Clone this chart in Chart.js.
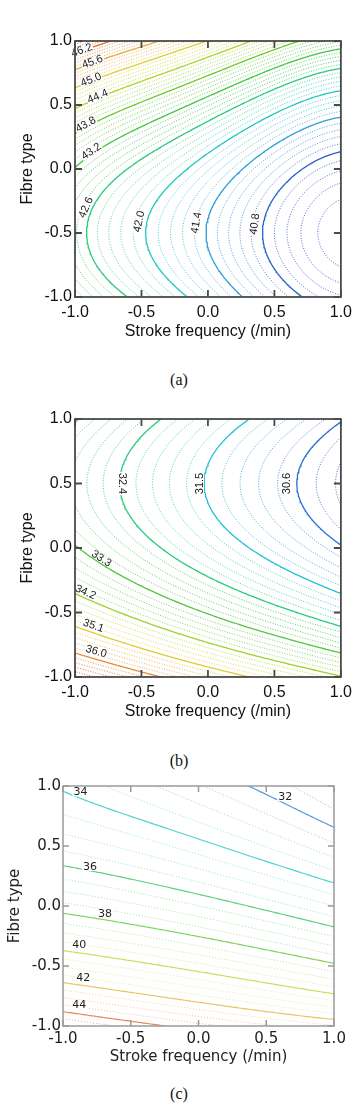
<!DOCTYPE html>
<html><head><meta charset="utf-8">
<script src="https://cdn.jsdelivr.net/npm/chart.js@4.4.1/dist/chart.umd.min.js"></script>
<style>
html,body{margin:0;padding:0;background:#fff;}
body{width:358px;height:1106px;position:relative;overflow:hidden;}
canvas{position:absolute;left:0;display:block;}
.cap{position:absolute;left:0;width:358px;text-align:center;font-family:"Liberation Serif","Times New Roman",serif;font-size:16px;color:#111;line-height:18px;}
</style></head><body>
<canvas id="ca" width="358" height="350" style="top:0px"></canvas>
<div class="cap" id="capA" style="top:371px"></div>
<canvas id="cb" width="358" height="330" style="top:400px"></canvas>
<div class="cap" id="capB" style="top:752px"></div>
<canvas id="cc" width="358" height="320" style="top:760px"></canvas>
<div class="cap" id="capC" style="top:1085px"></div>
<script>
// ---------------- data ----------------
const gridX = [-1, -0.5, 0, 0.5, 1];          // stroke frequency (coded)
const gridY = [-1, -0.5, 0, 0.5, 1];          // fibre type (coded)
const tickValues = [-1, -0.5, 0, 0.5, 1];
const tickLabels = ['-1.0', '-0.5', '0.0', '0.5', '1.0'];
const xTitle = 'Stroke frequency (/min)';
const yTitle = 'Fibre type';
const captions = ['(a)', '(b)', '(c)'];

// surface values, rows from y=-1 (bottom) to y=1 (top), columns x=-1..1
const surfaceA = [
  [43.18, 42.46, 41.78, 41.06, 40.58],
  [42.74, 42.04, 41.38, 40.68, 40.22],
  [43.18, 42.46, 41.78, 41.06, 40.58],
  [44.50, 43.72, 42.98, 42.20, 41.66],
  [46.70, 45.82, 44.98, 44.10, 43.46]
];
const surfaceB = [
  [36.94, 36.21, 35.51, 34.86, 34.24],
  [34.69, 33.96, 33.26, 32.61, 31.99],
  [33.34, 32.61, 31.91, 31.26, 30.64],
  [32.89, 32.16, 31.46, 30.81, 30.19],
  [33.34, 32.61, 31.91, 31.26, 30.64]
];
const surfaceC = [
  [45.04, 44.34, 43.70, 43.11, 42.57],
  [40.93, 40.32, 39.66, 38.94, 38.16],
  [37.65, 37.13, 36.51, 35.80, 35.00],
  [35.35, 34.85, 34.22, 33.47, 32.60],
  [33.90, 33.25, 32.55, 31.80, 31.00]
];
// labelled (solid) contour levels and number of intervals between them
const majorLevelsA = [40.8, 41.4, 42.0, 42.6, 43.2, 43.8, 44.4, 45.0, 45.6, 46.2];
const minorPerMajorA = 5;
const majorLevelsB = [30.6, 31.5, 32.4, 33.3, 34.2, 35.1, 36.0];
const minorPerMajorB = 5;
const majorLevelsC = [32, 34, 36, 38, 40, 42, 44];
const minorPerMajorC = 4;

// ---------------- label placement & colour scaling (layout / style) ----------------
const labelSpotsA = [
  {level:46.2, x:-0.95, y:0.93}, {level:45.6, x:-0.87, y:0.84}, {level:45.0, x:-0.88, y:0.70},
  {level:44.4, x:-0.83, y:0.57}, {level:43.8, x:-0.92, y:0.35}, {level:43.2, x:-0.88, y:0.14},
  {level:42.6, x:-0.92, y:-0.30}, {level:42.0, x:-0.52, y:-0.41}, {level:41.4, x:-0.09, y:-0.42},
  {level:40.8, x:0.35, y:-0.43}
];
const labelSpotsB = [
  {level:32.4, x:-0.64, y:0.5, flip:true}, {level:31.5, x:-0.06, y:0.5}, {level:30.6, x:0.59, y:0.5},
  {level:33.3, x:-0.80, y:-0.08}, {level:34.2, x:-0.92, y:-0.34}, {level:35.1, x:-0.86, y:-0.60},
  {level:36.0, x:-0.84, y:-0.80}
];
const labelSpotsC = [
  {level:34, x:-0.87, y:0.95}, {level:32, x:0.64, y:0.91}, {level:36, x:-0.80, y:0.33},
  {level:38, x:-0.69, y:-0.06}, {level:40, x:-0.88, y:-0.325}, {level:42, x:-0.85, y:-0.60},
  {level:44, x:-0.88, y:-0.825}
];
const colourRangeA = [40.0, 46.7];
const colourRangeB = [29.6, 36.9];
const colourRangeC = [29.5, 45.0];

const cmapStops = [[0,'#6a3fc8'],[0.05,'#3a48cc'],[0.1,'#2457c8'],[0.18,'#2d8ad8'],[0.26,'#22c0d8'],
  [0.34,'#1fd0a8'],[0.43,'#2fc64e'],[0.55,'#60c92e'],[0.64,'#a6d329'],[0.73,'#ded52e'],
  [0.84,'#eaa53c'],[0.93,'#e26a34'],[1,'#d2392a']];

// ---------------- helpers ----------------
function hex(h){return [parseInt(h.slice(1,3),16),parseInt(h.slice(3,5),16),parseInt(h.slice(5,7),16)];}
function colorAt(t, alpha){
  t = Math.max(0, Math.min(1, t));
  for (let i = 1; i < cmapStops.length; i++) {
    if (t <= cmapStops[i][0]) {
      const [t0,c0] = cmapStops[i-1], [t1,c1] = cmapStops[i];
      const f = (t - t0) / (t1 - t0), a = hex(c0), b = hex(c1);
      const c = a.map((v,k) => Math.round(v + (b[k]-v)*f));
      return 'rgba(' + c[0] + ',' + c[1] + ',' + c[2] + ',' + alpha + ')';
    }
  }
  return cmapStops[cmapStops.length-1][1];
}
function lagrange(nodes, vals, t){
  let s = 0;
  for (let i = 0; i < nodes.length; i++) {
    let w = 1;
    for (let j = 0; j < nodes.length; j++) if (j !== i) w *= (t - nodes[j]) / (nodes[i] - nodes[j]);
    s += w * vals[i];
  }
  return s;
}
function sampleSurface(surface, n){
  const x0 = gridX[0], x1 = gridX[gridX.length-1], y0 = gridY[0], y1 = gridY[gridY.length-1];
  const xs = [], ys = [];
  for (let i = 0; i < n; i++) { xs.push(x0 + (x1-x0)*i/(n-1)); ys.push(y0 + (y1-y0)*i/(n-1)); }
  const rowsAtX = surface.map(row => xs.map(x => lagrange(gridX, row, x)));
  const Z = ys.map(y => xs.map((x, i) => lagrange(gridY, rowsAtX.map(r => r[i]), y)));
  return {xs, ys, Z};
}
function traceLevel(Z, xs, ys, L){
  const pts = {}, adj = {};
  const n = xs.length;
  function eH(i,j){ const k='h'+i+'_'+j; if(!pts[k]){const a=Z[j][i]-L,b=Z[j][i+1]-L,t=a/(a-b); pts[k]=[xs[i]+t*(xs[i+1]-xs[i]), ys[j]];} return k; }
  function eV(i,j){ const k='v'+i+'_'+j; if(!pts[k]){const a=Z[j][i]-L,b=Z[j+1][i]-L,t=a/(a-b); pts[k]=[xs[i], ys[j]+t*(ys[j+1]-ys[j])];} return k; }
  function link(a,b){ (adj[a]=adj[a]||[]).push(b); (adj[b]=adj[b]||[]).push(a); }
  for (let j = 0; j < n-1; j++) for (let i = 0; i < n-1; i++) {
    const v0=Z[j][i]-L, v1=Z[j][i+1]-L, v2=Z[j+1][i+1]-L, v3=Z[j+1][i]-L;
    const s0=v0>=0, s1=v1>=0, s2=v2>=0, s3=v3>=0;
    const b = s0!==s1 ? eH(i,j) : null, r = s1!==s2 ? eV(i+1,j) : null;
    const t = s3!==s2 ? eH(i,j+1) : null, l = s0!==s3 ? eV(i,j) : null;
    const e = [b,r,t,l].filter(Boolean);
    if (e.length === 2) link(e[0], e[1]);
    else if (e.length === 4) {
      const c = (v0+v1+v2+v3)/4;
      if ((c>=0) === s0) { link(b,r); link(t,l); } else { link(b,l); link(r,t); }
    }
  }
  const used = new Set(), lines = [];
  const sk = (a,b) => a < b ? a+'|'+b : b+'|'+a;
  function walk(start){
    const line = [pts[start]]; let cur = start;
    for (;;) {
      const nb = (adj[cur]||[]).find(q => !used.has(sk(cur,q)));
      if (!nb) break;
      used.add(sk(cur,nb)); line.push(pts[nb]); cur = nb;
    }
    return line;
  }
  const keys = Object.keys(adj);
  keys.forEach(k => { if (adj[k].length === 1 && !used.has(sk(k, adj[k][0]))) lines.push(walk(k)); });
  keys.forEach(k => { if (adj[k].some(q => !used.has(sk(k,q)))) lines.push(walk(k)); });
  return lines.filter(l => l.length > 1);
}

// ---------------- plugins ----------------
const framePlugin = {
  id: 'frame',
  afterDraw(chart, args, o){
    const {ctx, chartArea:a, scales:{x, y}} = chart;
    ctx.save();
    ctx.strokeStyle = o.color; ctx.lineWidth = o.width;
    ctx.beginPath();
    tickValues.forEach(v => {
      const px = x.getPixelForValue(v), py = y.getPixelForValue(v);
      ctx.moveTo(px, a.bottom); ctx.lineTo(px, a.bottom - o.len);
      ctx.moveTo(px, a.top); ctx.lineTo(px, a.top + o.len);
      ctx.moveTo(a.left, py); ctx.lineTo(a.left + o.len, py);
      ctx.moveTo(a.right, py); ctx.lineTo(a.right - o.len, py);
    });
    ctx.stroke();
    ctx.strokeRect(a.left, a.top, a.right - a.left, a.bottom - a.top);
    ctx.restore();
  }
};
const labelPlugin = {
  id: 'clabels',
  afterDatasetsDraw(chart, args, o){
    const {ctx, scales:{x, y}} = chart;
    ctx.save();
    ctx.font = o.font; ctx.textAlign = 'center'; ctx.textBaseline = 'middle';
    o.items.forEach(it => {
      const ax = x.getPixelForValue(it.x), ay = y.getPixelForValue(it.y);
      let ang = 0;
      if (o.follow) {
        let best = null, bd = Infinity;
        chart.data.datasets.forEach(ds => {
          if (Math.abs(ds.level - it.level) > 1e-6) return;
          ds.data.forEach((p, k) => {
            const d = Math.hypot(x.getPixelForValue(p.x) - ax, y.getPixelForValue(p.y) - ay);
            if (d < bd) { bd = d; best = {ds, k}; }
          });
        });
        if (best) {
          const d = best.ds.data, k0 = Math.max(0, best.k - 2), k1 = Math.min(d.length - 1, best.k + 2);
          const dx = x.getPixelForValue(d[k1].x) - x.getPixelForValue(d[k0].x);
          const dy = y.getPixelForValue(d[k1].y) - y.getPixelForValue(d[k0].y);
          ang = Math.atan2(dy, dx);
          if (ang >= Math.PI/2 - 1e-9) ang -= Math.PI;
          if (ang < -Math.PI/2 - 1e-9) ang += Math.PI;
          if (it.flip) ang += Math.PI;
        }
      }
      const txt = o.format(it.level);
      const w = ctx.measureText(txt).width;
      ctx.save();
      ctx.translate(ax, ay); ctx.rotate(ang);
      ctx.fillStyle = '#fff';
      ctx.fillRect(-w/2 - 1, -o.bgH/2, w + 2, o.bgH);
      ctx.fillStyle = o.color;
      ctx.fillText(txt, 0, 0.5);
      ctx.restore();
    });
    ctx.restore();
  }
};

// ---------------- chart builder ----------------
function makeChart(id, c){
  const {xs, ys, Z} = sampleSurface(c.surface, 121);
  let zmin = Infinity, zmax = -Infinity;
  Z.forEach(r => r.forEach(v => { if (v < zmin) zmin = v; if (v > zmax) zmax = v; }));
  const step = (c.majors[1] - c.majors[0]) / c.minorPer, base = c.majors[0];
  const levels = [];
  for (let k = Math.floor((zmin - base) / step); base + k*step < zmax; k++) {
    const lev = +(base + k*step).toFixed(6);
    if (lev <= zmin) continue;
    levels.push({lev, major: ((k % c.minorPer) + c.minorPer) % c.minorPer === 0});
  }
  const [vmin, vmax] = c.colourRange;
  const datasets = [];
  levels.forEach(L => {
    const t = (L.lev - vmin) / (vmax - vmin);
    const col = colorAt(t, L.major ? c.majorAlpha : c.minorAlpha);
    traceLevel(Z, xs, ys, L.lev).forEach(line => {
      datasets.push({
        level: L.lev,
        data: line.map(p => ({x: p[0], y: p[1]})),
        showLine: true, fill: false, tension: 0, pointRadius: 0,
        borderColor: col,
        borderWidth: L.major ? c.majorWidth : c.minorWidth,
        borderDash: L.major ? [] : c.dash
      });
    });
  });
  const tickFont = {family: c.font, size: c.tickSize};
  const titleFont = {family: c.font, size: c.titleSize, lineHeight: 1.2};
  return new Chart(document.getElementById(id), {
    type: 'scatter',
    data: {datasets},
    options: {
      responsive: false, animation: false, events: [], devicePixelRatio: 1,
      layout: {padding: {top: c.padTop, right: c.padRight, left: 0, bottom: 0}},
      elements: {point: {radius: 0}, line: {borderCapStyle: 'butt'}},
      plugins: {
        legend: {display: false}, tooltip: {enabled: false},
        frame: {color: c.frameColor, width: c.frameWidth, len: c.tickLen},
        clabels: {items: c.labels, font: c.labelFont, color: c.labelColor, follow: c.follow, bgH: c.labelBg, format: c.format}
      },
      scales: {
        x: {
          type: 'linear', min: -1, max: 1,
          afterBuildTicks: s => { s.ticks = tickValues.map(v => ({value: v})); },
          afterFit: s => { s.height = c.xAxisHeight; },
          ticks: {autoSkip: false, maxRotation: 0, minRotation: 0, padding: c.xTickPad, color: c.textColor, font: tickFont,
            callback: v => tickLabels[tickValues.indexOf(v)]},
          grid: {display: false, drawTicks: false}, border: {display: false},
          title: {display: true, text: xTitle, color: c.textColor, font: titleFont, padding: {top: 0, bottom: c.xTitlePad}}
        },
        y: {
          type: 'linear', min: -1, max: 1,
          afterBuildTicks: s => { s.ticks = tickValues.map(v => ({value: v})); },
          afterFit: s => { s.width = c.yAxisWidth; },
          ticks: {autoSkip: false, padding: c.yTickPad, color: c.textColor, font: tickFont,
            callback: v => tickLabels[tickValues.indexOf(v)]},
          grid: {display: false, drawTicks: false}, border: {display: false},
          title: {display: true, text: yTitle, color: c.textColor, font: titleFont, padding: {top: c.yTitlePad, bottom: 0}}
        }
      }
    },
    plugins: [labelPlugin, framePlugin]
  });
}

const sansA = '"Liberation Sans", Arial, sans-serif';
const sansC = '"DejaVu Sans", Verdana, sans-serif';
const styleAB = {
  font: sansA, tickSize: 16, titleSize: 16, textColor: '#111',
  padRight: 15, yAxisWidth: 75, xAxisHeight: 53, xTickPad: 6, yTickPad: 3, xTitlePad: 8.4, yTitlePad: 18,
  majorWidth: 1.3, minorWidth: 1, dash: [1, 1.6], majorAlpha: 1, minorAlpha: 0.85,
  frameColor: '#4a4a4a', frameWidth: 1.8, tickLen: 7,
  labelFont: '11px "Liberation Sans", Arial, sans-serif', labelColor: '#1a1a1a', follow: true, labelBg: 8,
  format: v => v.toFixed(1)
};
makeChart('ca', Object.assign({}, styleAB, {surface: surfaceA, majors: majorLevelsA, minorPer: minorPerMajorA, padTop: 41, labels: labelSpotsA, colourRange: colourRangeA}));
makeChart('cb', Object.assign({}, styleAB, {surface: surfaceB, majors: majorLevelsB, minorPer: minorPerMajorB, padTop: 19, labels: labelSpotsB, colourRange: colourRangeB}));
makeChart('cc', {
  surface: surfaceC, majors: majorLevelsC, minorPer: minorPerMajorC, padTop: 26, labels: labelSpotsC, colourRange: colourRangeC,
  font: sansC, tickSize: 15, titleSize: 15, textColor: '#222',
  padRight: 24, yAxisWidth: 63, xAxisHeight: 54, xTickPad: 4, yTickPad: 2, xTitlePad: 14, yTitlePad: 6,
  majorWidth: 1.2, minorWidth: 1, dash: [1, 2], majorAlpha: 0.8, minorAlpha: 0.5,
  frameColor: '#9a9a9a', frameWidth: 1.5, tickLen: 6,
  labelFont: '11px "DejaVu Sans", Verdana, sans-serif', labelColor: '#222', follow: false, labelBg: 9,
  format: v => String(v)
});
document.getElementById('capA').textContent = captions[0];
document.getElementById('capB').textContent = captions[1];
document.getElementById('capC').textContent = captions[2];
</script>
</body></html>
